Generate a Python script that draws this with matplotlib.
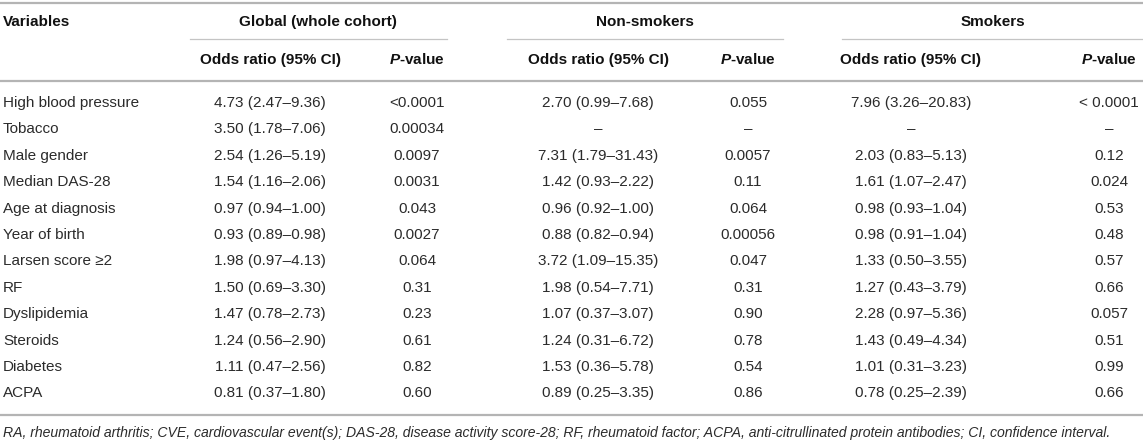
import matplotlib.pyplot as plt

plt.rcParams['font.family'] = ['Liberation Sans', 'DejaVu Sans']
plt.rcParams['mathtext.fontset'] = 'custom'
plt.rcParams['mathtext.bf'] = 'Liberation Sans:bold'
plt.rcParams['mathtext.bfit'] = 'Liberation Sans:italic:bold'
plt.rcParams['mathtext.it'] = 'Liberation Sans:italic'

variables = ["High blood pressure", "Tobacco", "Male gender", "Median DAS-28",
             "Age at diagnosis", "Year of birth", "Larsen score \u22652", "RF",
             "Dyslipidemia", "Steroids", "Diabetes", "ACPA"]
global_or = ["4.73 (2.47\u20139.36)", "3.50 (1.78\u20137.06)", "2.54 (1.26\u20135.19)",
             "1.54 (1.16\u20132.06)", "0.97 (0.94\u20131.00)", "0.93 (0.89\u20130.98)",
             "1.98 (0.97\u20134.13)", "1.50 (0.69\u20133.30)", "1.47 (0.78\u20132.73)",
             "1.24 (0.56\u20132.90)", "1.11 (0.47\u20132.56)", "0.81 (0.37\u20131.80)"]
global_p = ["<0.0001", "0.00034", "0.0097", "0.0031", "0.043", "0.0027",
            "0.064", "0.31", "0.23", "0.61", "0.82", "0.60"]
nonsmk_or = ["2.70 (0.99\u20137.68)", "\u2013", "7.31 (1.79\u201331.43)",
             "1.42 (0.93\u20132.22)", "0.96 (0.92\u20131.00)", "0.88 (0.82\u20130.94)",
             "3.72 (1.09\u201315.35)", "1.98 (0.54\u20137.71)", "1.07 (0.37\u20133.07)",
             "1.24 (0.31\u20136.72)", "1.53 (0.36\u20135.78)", "0.89 (0.25\u20133.35)"]
nonsmk_p = ["0.055", "\u2013", "0.0057", "0.11", "0.064", "0.00056",
            "0.047", "0.31", "0.90", "0.78", "0.54", "0.86"]
smk_or = ["7.96 (3.26\u201320.83)", "\u2013", "2.03 (0.83\u20135.13)",
          "1.61 (1.07\u20132.47)", "0.98 (0.93\u20131.04)", "0.98 (0.91\u20131.04)",
          "1.33 (0.50\u20133.55)", "1.27 (0.43\u20133.79)", "2.28 (0.97\u20135.36)",
          "1.43 (0.49\u20134.34)", "1.01 (0.31\u20133.23)", "0.78 (0.25\u20132.39)"]
smk_p = ["< 0.0001", "\u2013", "0.12", "0.024", "0.53", "0.48",
         "0.57", "0.66", "0.057", "0.51", "0.99", "0.66"]
groups = ["Global (whole cohort)", "Non-smokers", "Smokers"]
sub_headers = ["Odds ratio (95% CI)", r"$\mathbfit{P}$-value"]
footnote = ("RA, rheumatoid arthritis; CVE, cardiovascular event(s); DAS-28, disease activity "
            "score-28; RF, rheumatoid factor; ACPA, anti-citrullinated protein antibodies; "
            "CI, confidence interval.")

W, H = 1143, 442
fig = plt.figure(figsize=(W / 100, H / 100), dpi=100)
ax = fig.add_axes([0, 0, 1, 1])
ax.set_xlim(0, W)
ax.set_ylim(H, 0)
ax.axis('off')

head_col = '#111111'
body_col = '#2b2b2b'
line_col = '#b4b4b4'
fs = 11

or_x = [270, 598, 911]
p_x = [417, 748, 1109]
grp_x = [318, 645, 993]
grp_lines = [(190, 447), (507, 783), (842, 1143)]

# rules
ax.plot([0, W], [3, 3], color=line_col, lw=1.6)
ax.plot([0, W], [81, 81], color=line_col, lw=1.6)
ax.plot([0, W], [415, 415], color=line_col, lw=1.6)
for x0, x1 in grp_lines:
    ax.plot([x0, x1], [39, 39], color='#c4c4c4', lw=0.9)

# header
ax.text(3, 22, "Variables", fontsize=fs, fontweight='bold', color=head_col, va='center')
for g, gx in zip(groups, grp_x):
    ax.text(gx, 22, g, fontsize=fs, fontweight='bold', color=head_col, va='center', ha='center')
for ox, px in zip(or_x, p_x):
    ax.text(ox, 60, sub_headers[0], fontsize=fs, fontweight='bold', color=head_col,
            va='center', ha='center')
    ax.text(px, 60, sub_headers[1], fontsize=fs, fontweight='bold', color=head_col,
            va='center', ha='center')

# body
columns = [(global_or, or_x[0]), (global_p, p_x[0]),
           (nonsmk_or, or_x[1]), (nonsmk_p, p_x[1]),
           (smk_or, or_x[2]), (smk_p, p_x[2])]
for i, v in enumerate(variables):
    y = 103 + 26.4 * i
    ax.text(3, y, v, fontsize=fs, color=body_col, va='center')
    for vals, cx in columns:
        ax.text(cx, y, vals[i], fontsize=fs, color=body_col, va='center', ha='center')

ax.text(3, 433, footnote, fontsize=10.1, style='italic', color=body_col, va='center')

fig.savefig("out.png", dpi=100)
